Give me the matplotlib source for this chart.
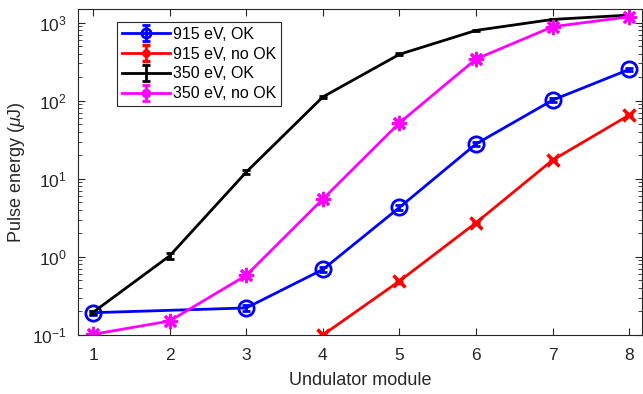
import matplotlib
matplotlib.use("Agg")
import matplotlib.pyplot as plt
import numpy as np

plt.rcParams['font.family'] = ['Liberation Sans', 'DejaVu Sans']
plt.rcParams['mathtext.fontset'] = 'custom'
plt.rcParams['mathtext.it'] = 'Liberation Sans:italic'
plt.rcParams['mathtext.rm'] = 'Liberation Sans'

# Data
x_915_ok = [1, 3, 4, 5, 6, 7, 8]
y_915_ok = [0.193, 0.222, 0.69, 4.3, 28, 102, 252]
e_915_ok = [0.01, 0.02, 0.05, 0.3, 1.5, 5, 10]

x_915_nook = [4, 5, 6, 7, 8]
y_915_nook = [0.1, 0.49, 2.74, 17.4, 65.6]
e_915_nook = [0.005, 0.02, 0.1, 0.6, 2]

x_350_ok = [1, 2, 3, 4, 5, 6, 7, 8]
y_350_ok = [0.195, 1.03, 12.2, 112, 393, 796, 1100, 1250]
e_350_ok = [0.01, 0.08, 0.8, 4, 10, 15, 15, 15]

x_350_nook = [1, 2, 3, 4, 5, 6, 7, 8]
y_350_nook = [0.102, 0.151, 0.58, 5.5, 52, 342, 887, 1190]
e_350_nook = [0.003, 0.005, 0.02, 0.2, 2, 10, 20, 20]

labels = ['915 eV, OK', '915 eV, no OK', '350 eV, OK', '350 eV, no OK']
xticks = [1, 2, 3, 4, 5, 6, 7, 8]

fig = plt.figure(figsize=(6.43, 3.94), dpi=100)
ax = fig.add_axes([78/643, 1-335/394, (642-78)/643, (335-9)/394])

lw = 2.0
ax.errorbar(x_915_ok, y_915_ok, yerr=e_915_ok, color='#0000ff', lw=lw, marker='o',
            ms=11, mfc='none', mew=2, capsize=3, elinewidth=2, capthick=2, label=labels[0])
ax.errorbar(x_915_nook, y_915_nook, yerr=e_915_nook, color='#ff0000', lw=lw, marker='x',
            ms=8, mew=2.5, capsize=3, elinewidth=2, capthick=2, label=labels[1])
ax.errorbar(x_350_ok, y_350_ok, yerr=e_350_ok, color='black', lw=lw, marker='none',
            capsize=3, elinewidth=2, capthick=2, label=labels[2])
ax.errorbar(x_350_nook, y_350_nook, yerr=e_350_nook, color='#ff00ff', lw=lw, marker=(8, 2, 0),
            ms=11, mew=2, capsize=3, elinewidth=2, capthick=2, label=labels[3])

ax.set_yscale('log')
ax.set_xlim(0.804, 8.166)
ax.set_ylim(0.1, 1496)
ax.set_xticks(xticks)
ax.set_xticklabels([str(v) for v in xticks])
ax.set_yticks([0.1, 1, 10, 100, 1000])

axc = '#262626'
for s in ax.spines.values():
    s.set_color(axc)
    s.set_linewidth(0.8)
ax.tick_params(which='both', direction='in', top=True, right=True, colors=axc,
               labelsize=12.5, labelcolor='#262626')
ax.tick_params(which='major', length=5)
ax.tick_params(which='minor', length=3)
ax.tick_params(axis='x', which='major', pad=9)
ax.tick_params(axis='y', which='both', pad=8)
ax.tick_params(axis='x', which='minor', top=False, bottom=False)

ax.set_xlabel('Undulator module', fontsize=13, color='#262626', labelpad=7)
ax.set_ylabel(r'Pulse energy ($\mu$J)', fontsize=13, color='#262626', labelpad=0)
ax.yaxis.set_label_coords(-0.09, 0.5)

leg = ax.legend(loc='upper left', bbox_to_anchor=(0.069, 0.96), borderaxespad=0,
                fontsize=11.5, handlelength=3.0, handletextpad=0.2, labelspacing=0.3,
                borderpad=0.3, fancybox=False, framealpha=1, edgecolor=axc,
                markerscale=0.6)
leg.get_frame().set_linewidth(0.8)

fig.savefig('out.png', dpi=100)
